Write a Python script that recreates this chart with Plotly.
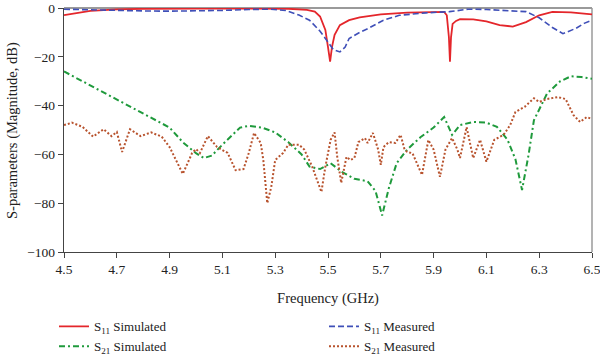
import plotly.graph_objects as go

# ---- data ----
s11_sim_f = [4.5, 4.55, 4.6, 4.7, 4.8, 5.0, 5.2, 5.35, 5.42, 5.45, 5.47, 5.49, 5.5, 5.508, 5.515,
             5.525, 5.545, 5.58, 5.62, 5.7, 5.8, 5.9, 5.94, 5.95, 5.958, 5.962, 5.966, 5.972,
             5.985, 6.0, 6.05, 6.1, 6.15, 6.2, 6.25, 6.3, 6.35, 6.42, 6.5]
s11_sim_db = [-2.9, -1.9, -1.2, -0.6, -0.3, -0.2, -0.2, -0.3, -0.8, -1.5, -3.5, -9, -16, -22, -16,
              -11, -7, -5, -3.8, -2.6, -1.9, -1.6, -1.6, -3, -12, -22, -12, -6.5,
              -5.3, -4.6, -4.7, -5.5, -7, -7.6, -5.8, -3, -1.6, -1.8, -2.6]

s11_meas_f = [4.5, 4.6, 4.7, 4.8, 4.9, 5.0, 5.1, 5.2, 5.28, 5.34, 5.39, 5.43, 5.47, 5.5, 5.52,
              5.545, 5.565, 5.58, 5.62, 5.65, 5.71, 5.77, 5.87, 5.96, 6.03, 6.1, 6.15, 6.25,
              6.3, 6.35, 6.39, 6.44, 6.47, 6.5]
s11_meas_db = [-0.5, -0.8, -1.0, -1.2, -1.3, -1.3, -1.0, -0.6, -0.5, -1.0, -2.9, -5, -9.5, -14, -17,
               -18, -16, -12.5, -10, -8.5, -5, -3, -2, -1.5, -0.5, -0.6, -0.8, -1.5,
               -4, -8, -10.5, -8.3, -6.3, -5]

s21_sim_f = [4.5, 4.6, 4.7, 4.8, 4.85, 4.9, 4.95, 5.0, 5.03, 5.06, 5.1, 5.167, 5.2, 5.25, 5.3,
             5.35, 5.4, 5.43, 5.47, 5.51, 5.55, 5.6, 5.65, 5.68, 5.705, 5.73, 5.76, 5.8, 5.85,
             5.9, 5.94, 5.97, 6.0, 6.05, 6.1, 6.14, 6.18, 6.21, 6.235, 6.26, 6.28, 6.33, 6.38,
             6.42, 6.46, 6.5]
s21_sim_db = [-26, -31.7, -37.4, -43, -46, -49, -55, -59.5, -61.5, -60.5, -56, -49, -48.3, -49, -51,
              -55, -60, -65, -66, -63.6, -67, -70, -71, -75, -85, -74, -63.6, -58, -53,
              -49, -44.7, -52, -48, -46.7, -47, -48.7, -54, -62, -74.6, -60, -46, -35, -30,
              -28, -28.3, -29]

s21_meas_f = [4.5, 4.53, 4.57, 4.61, 4.65, 4.68, 4.70, 4.72, 4.75, 4.79, 4.83, 4.87, 4.90, 4.95,
              4.985, 5.00, 5.015, 5.045, 5.08, 5.12, 5.15, 5.18, 5.20, 5.22, 5.245, 5.255, 5.27,
              5.285, 5.30, 5.33, 5.35, 5.39, 5.41, 5.44, 5.475, 5.49, 5.51, 5.525, 5.535, 5.55,
              5.57, 5.585, 5.6, 5.615, 5.64, 5.65, 5.67, 5.69, 5.70, 5.71, 5.73, 5.755, 5.775,
              5.79, 5.80, 5.82, 5.856, 5.88, 5.9, 5.924, 5.945, 5.97, 5.99, 6.0, 6.025, 6.05,
              6.076, 6.10, 6.13, 6.165, 6.19, 6.21, 6.245, 6.28, 6.30, 6.33, 6.37, 6.4, 6.43,
              6.455, 6.48, 6.5]
s21_meas_db = [-48, -47, -48.7, -52.7, -49.7, -52.5, -50.8, -59, -49.7, -52.5, -51, -52.7, -57, -68,
               -59.5, -57.8, -59.4, -52.5, -57, -59.4, -66.5, -66, -59.4, -51.2, -55.3, -62.3, -80,
               -73.4, -62.3, -59.4, -56, -56, -58, -65, -75.4, -65, -54, -51, -61, -71.7,
               -61, -62.3, -61.5, -55, -53.3, -55.3, -51.2, -58, -64.3, -57, -55, -55.3, -52,
               -58, -59, -59.5, -68.4, -54.1, -58, -69.2, -58, -53.3, -58, -61.5, -48.8, -61.5,
               -54, -63, -54, -52, -48, -42.6, -40.5, -37, -38.5, -37.3, -36.5, -37.3, -43.9,
               -46.7, -44.7, -45.5]

x_ticks = [4.5, 4.7, 4.9, 5.1, 5.3, 5.5, 5.7, 5.9, 6.1, 6.3, 6.5]
y_ticks = [0, -20, -40, -60, -80, -100]

FONT = "Liberation Serif"

fig = go.Figure()
fig.add_trace(go.Scatter(x=s11_sim_f, y=s11_sim_db, mode="lines", name="S<sub>11</sub> Simulated",
                         line=dict(color="#e4262b", width=1.8), legend="legend"))
fig.add_trace(go.Scatter(x=s21_sim_f, y=s21_sim_db, mode="lines", name="S<sub>21</sub> Simulated",
                         line=dict(color="#1f9a3c", width=2, dash="6px,3px,2px,3px"), legend="legend"))
fig.add_trace(go.Scatter(x=s11_meas_f, y=s11_meas_db, mode="lines", name="S<sub>11</sub> Measured",
                         line=dict(color="#3f4fb8", width=1.6, dash="6px,3px"), legend="legend2"))
fig.add_trace(go.Scatter(x=s21_meas_f, y=s21_meas_db, mode="lines", name="S<sub>21</sub> Measured",
                         line=dict(color="#b8532e", width=2, dash="2px,2px"), legend="legend2"))

axis_common = dict(showgrid=False, zeroline=False, ticks="outside", ticklen=5, tickwidth=1.2,
                   tickcolor="#444", showline=True, linecolor="#444", linewidth=1.4,
                   tickfont=dict(family=FONT, size=13.5, color="#222"))

fig.update_layout(
    width=600, height=360,
    margin=dict(l=64, r=8, t=8, b=108, autoexpand=False),
    paper_bgcolor="white", plot_bgcolor="white",
    font=dict(family=FONT, size=14, color="#222"),
    xaxis=dict(range=[4.5, 6.5], tickvals=x_ticks, ticktext=[f"{v:.1f}" for v in x_ticks],
               ticklabeloverflow="allow",
               title=dict(text="Frequency (GHz)", font=dict(family=FONT, size=14.5), standoff=16),
               **axis_common),
    yaxis=dict(range=[-100, 0], tickvals=y_ticks, **axis_common),
    annotations=[
        dict(text="S-parameters (Magnitude, dB)", xref="paper", yref="paper", x=-0.0985, y=0.5,
             xanchor="center", yanchor="middle", textangle=-90, showarrow=False,
             font=dict(family=FONT, size=14.5, color="#222")),
    ],
    legend=dict(xref="container", yref="container", x=0.09, y=0.135, xanchor="left", yanchor="top",
                bgcolor="rgba(0,0,0,0)", font=dict(family=FONT, size=13), itemwidth=30),
    legend2=dict(xref="container", yref="container", x=0.54, y=0.135, xanchor="left", yanchor="top",
                 bgcolor="rgba(0,0,0,0)", font=dict(family=FONT, size=13), itemwidth=30),
    shapes=[
        dict(type="line", xref="paper", yref="paper", x0=0, x1=1, y0=1, y1=1,
             line=dict(color="#9a9a9a", width=2), layer="below"),
        dict(type="line", xref="paper", yref="paper", x0=1, x1=1, y0=0, y1=1,
             line=dict(color="#9a9a9a", width=1.5), layer="below"),
    ],
)

fig.write_html("out.html", config={"displayModeBar": False},
               post_script="document.body.style.margin='0';document.body.style.padding='0';")
